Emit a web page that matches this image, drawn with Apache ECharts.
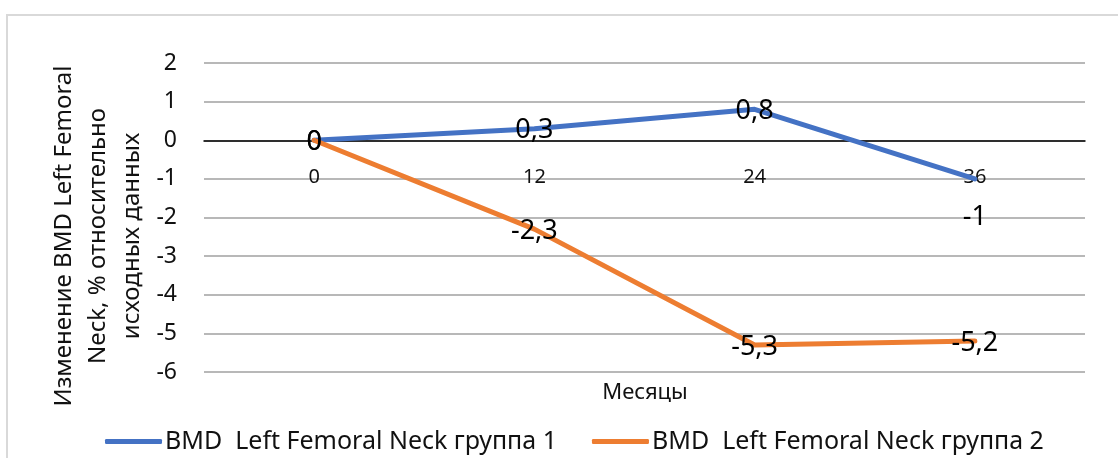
<!DOCTYPE html>
<html>
<head>
<meta charset="utf-8">
<script src="https://cdn.jsdelivr.net/npm/echarts@6/dist/echarts.min.js"></script>
<style>
  html, body { margin: 0; padding: 0; background: #fff; }
  #chart { width: 1118px; height: 458px; }
</style>
</head>
<body>
<div id="chart"></div>
<script>
// data
const months = ['0', '12', '24', '36'];
const group1 = [0, 0.3, 0.8, -1];
const group2 = [0, -2.3, -5.3, -5.2];
const seriesNames = ['BMD  Left Femoral Neck группа 1', 'BMD  Left Femoral Neck группа 2'];
const yTitle = 'Изменение BMD Left Femoral\nNeck, % относительно\nисходных данных';
const xTitle = 'Месяцы';

const FONT = 'Noto Sans';
const fmt = (p) => String(p.value).replace('.', ',');

const chart = echarts.init(document.getElementById('chart'));

function labelled(values, special) {
    return values.map((v, i) => {
        if (special && special[i]) {
            return { value: v, label: special[i] };
        }
        return v;
    });
}

chart.setOption({
    animation: false,
    textStyle: { fontFamily: FONT },
    grid: { left: 204, right: 33, top: 63, bottom: 86 },
    xAxis: {
        type: 'category',
        data: months,
        boundaryGap: true,
        axisLine: { onZero: true, lineStyle: { color: '#000', width: 1.5 } },
        axisTick: { show: false },
        // labels sit just under the zero line, as in the original
        axisLabel: { margin: -205, fontSize: 20, color: '#111', fontFamily: FONT }
    },
    yAxis: {
        type: 'value',
        min: -6,
        max: 2,
        interval: 1,
        axisLine: { show: false },
        axisTick: { show: false },
        axisLabel: { margin: 27, fontSize: 23, color: '#111', fontFamily: FONT },
        splitLine: { lineStyle: { color: '#a0a0a0', width: 1.5 } }
    },
    legend: {
        left: 100,
        top: 424,
        itemGap: 35,
        itemWidth: 57,
        itemHeight: 5,
        icon: 'roundRect',
        textStyle: { fontSize: 25, color: '#111', fontFamily: FONT, padding: [0, 0, 0, -2] },
        data: seriesNames
    },
    graphic: [
        {
            type: 'rect',
            silent: true,
            shape: { x: 7, y: 15, width: 1125, height: 470 },
            style: { fill: 'none', stroke: '#d9d9d9', lineWidth: 2 }
        },
        {
            type: 'text',
            x: 98,
            y: 236,
            rotation: Math.PI / 2,
            style: {
                text: yTitle,
                fontSize: 24,
                lineHeight: 34,
                fontFamily: FONT,
                fill: '#111',
                textAlign: 'center',
                textVerticalAlign: 'middle'
            }
        },
        {
            type: 'text',
            x: 645,
            y: 393,
            style: {
                text: xTitle,
                fontSize: 22,
                fontFamily: FONT,
                fill: '#111',
                textAlign: 'center',
                textVerticalAlign: 'middle'
            }
        }
    ],
    series: [
        {
            name: seriesNames[0],
            type: 'line',
            data: labelled(group1, { 3: { position: 'inside', offset: [0, 38] } }),
            symbol: 'circle',
            symbolSize: 1,
            lineStyle: { width: 5, color: '#4472C4', cap: 'round', join: 'round' },
            itemStyle: { color: '#4472C4' },
            label: {
                show: true,
                position: 'inside',
                offset: [0, 2],
                formatter: fmt,
                fontSize: 27,
                color: '#000',
                fontFamily: FONT
            }
        },
        {
            name: seriesNames[1],
            type: 'line',
            data: group2,
            symbol: 'circle',
            symbolSize: 1,
            lineStyle: { width: 5, color: '#ED7D31', cap: 'round', join: 'round' },
            itemStyle: { color: '#ED7D31' },
            label: {
                show: true,
                position: 'inside',
                offset: [0, 2],
                formatter: fmt,
                fontSize: 27,
                color: '#000',
                fontFamily: FONT
            }
        }
    ]
});
</script>
</body>
</html>
